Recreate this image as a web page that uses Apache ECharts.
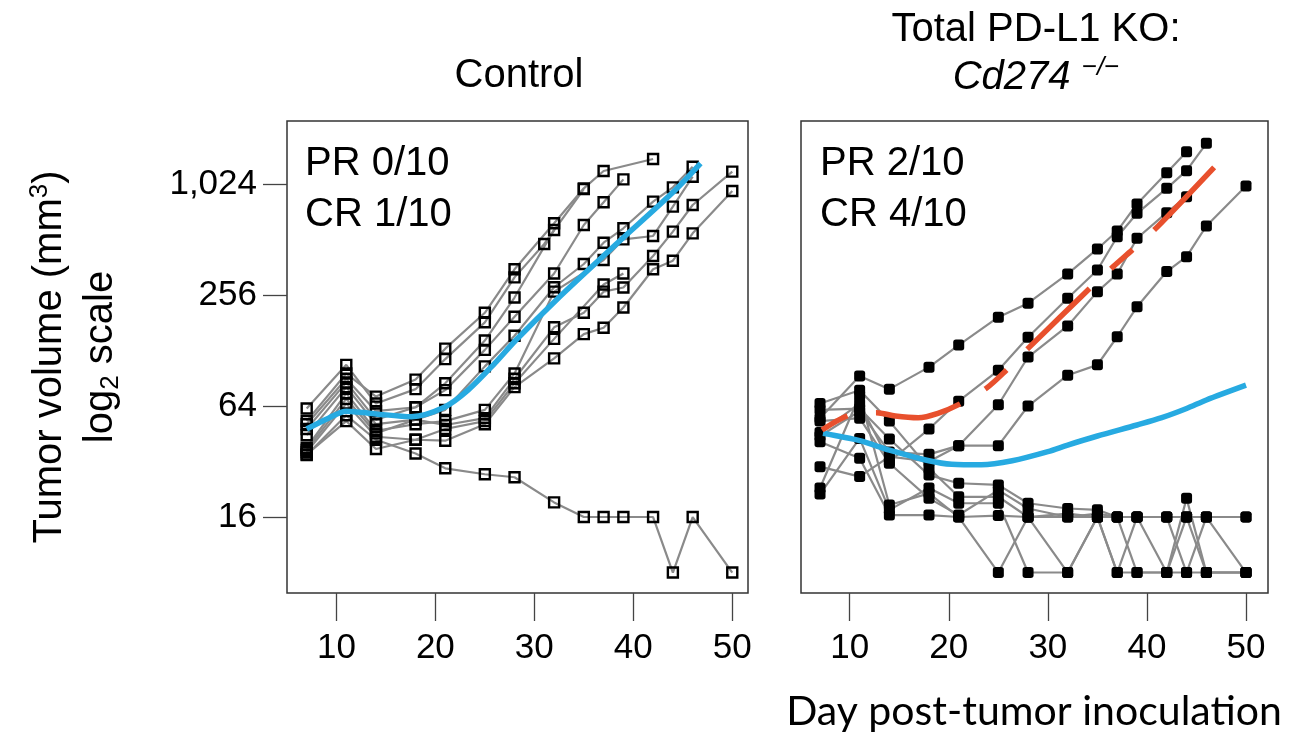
<!DOCTYPE html>
<html><head><meta charset="utf-8">
<script src="https://cdn.jsdelivr.net/npm/echarts@6/dist/echarts.min.js"></script>
<style>html,body{margin:0;padding:0;background:#fff}#c{width:1294px;height:733px}</style>
</head><body><div id="c"></div>
<script>
// ---------------- DATA ----------------
// Control panel: measurement days (one mouse measured on day 31 instead of 32)
const ctrlDays = [7, 11, 14, 18, 21, 25, 28, 31, 32, 35, 37, 39, 42, 44, 46, 50];
// tumor volumes (mm^3), one array per mouse, null = not measured
const ctrlA  = [53, 96, 72, 89, 131, 205, 353, null, 627, 970, 1205, null, 1399, null, null, null];
const ctrlB  = [62, 107, 66, 79, 115, 182, 319, 484, null, 960, null, null, null, null, null, null];
const ctrlC  = [51, 90, 60, 63, 85, 145, 248, null, 577, null, null, null, null, null, null, null];
const ctrlD  = [48, 86, 54, 63, 78, 129, 195, null, 335, 614, 815, 1085, null, null, null, null];
const ctrlE  = [44.5, 81, 51, 54, 61, 105, 154, null, 282, 377, 492, 589, 822, 982, 1271, null];
const ctrlF  = [38, 75, 47, 51, 53, 61, 96, null, 267, null, 396, 513, 535, 772, 1122, null];
const ctrlG  = [37, 70, 45.5, 54, 50.5, 55, 90, null, 171, 205, 267, 281, 417, 565, 788, 1195];
const ctrlH  = [36, 66, 43.6, 42, 48, 53, 85, null, 148, null, 292, 335, null, null, null, null];
const ctrlI  = [35, 53, 37.4, 42, 41.5, 51, 81, null, 116, 157, 170, 219, 353, 393, 553, 938];
const ctrlJ  = [34.7, 57, 42, 35.4, 29.4, 27.3, 26.3, null, 19.2, 16, 16, 16, 16, 8, 16, 8];
const ctrlMice = [ctrlA, ctrlB, ctrlC, ctrlD, ctrlE, ctrlF, ctrlG, ctrlH, ctrlI, ctrlJ];

// Control fitted trend (blue)
const ctrlFitDays = [7, 9.2, 11, 14, 17.6, 20.9, 23.3, 26, 28.1, 32.2, 38.4, 43.9, 46.8];
const ctrlFitVol  = [48, 55, 60, 58, 56, 63, 78, 109, 145, 240, 490, 911, 1325];

// Cd274 -/- panel
const koDays = [7, 11, 14, 18, 21, 25, 28, 32, 35, 37, 39, 42, 44, 46, 50];
const koA = [55, 93, 79, 104, 137, 194, 231, 333, 455, 569, 798, 1180, 1534, null, null];
const koB = [46, 66, 32, 48, 68, 100, 151, 246, 350, 530, 710, 970, 1210, 1702, null];
const koC = [44, 60, 36, 35, 39, 65, 118, 174, 267, 333, 520, 716, 874, null, null];
const koD = [30, 26.5, 34, 32, 39, 39, 64, 94, 107, 152, 221, 343, 413, 606, 999];
const koE = [23, 73, 18.6, 21.5, 16, 8, 16, 16, 16, 16, 16, 16, 16, 16, 16];
const koF = [21.3, 42.7, 17.5, 23, 19, 19, 8, 8, 16, 8, 16, 8, 20.2, 8, 8];
const koG = [66, 78, 53, 29.4, 20.6, 20.6, 16, 16.7, 16, 16, 8, 8, 16, 8, 8];
const koH = [61, 62, 42.4, 27, 24.4, 23.9, 19, 17.8, 17.5, 16, 16, 16, 8, 16, 16];
const koI = [53, 55, 31.3, 20.2, 16.4, 22.4, 17.8, 16, 16.7, 16, 16, 16, 16, 16, 8];
const koJ = [41, 33.3, 16.4, 16.4, 16, 16.3, 16, 8, 16, 8, 8, 8, 8, 8, 8];
const koMice = [koA, koB, koC, koD, koE, koF, koG, koH, koI, koJ];

// KO fitted trends: all mice (blue) and progressors (red, dashed)
const koFitAllDays = [7.3, 11, 14, 18, 20.3, 23.3, 26.4, 30, 32, 35, 39, 41.5, 44, 46, 50];
const koFitAllVol  = [45.5, 41.5, 36.9, 32.3, 30.9, 30.7, 32.3, 36.2, 39.3, 44, 50.5, 55.3, 62, 69, 83];
const koFitProgDays = [7.2, 9.9, 12.7, 14.6, 16.9, 18.9, 21.2, 23.8, 25.8, 28, 34.4, 36.6, 38.7, 41, 47];
const koFitProgVol  = [47.4, 57, 58.9, 56.5, 55.3, 58.4, 66, 80, 100, 131.5, 284, 365, 459, 596, 1298];

// Axis ticks and labels
const xTicks = [10, 20, 30, 40, 50];
const yTickVols = [16, 64, 256, 1024];
const yTickLabels = ['16', '64', '256', '1,024'];

// Texts
const titleCtrl = 'Control';
const titleKo1 = 'Total PD-L1 KO:';
const titleKoGene = 'Cd274';
const titleKoSup = '\u2212/\u2212';
const ctrlPR = 'PR 0/10', ctrlCR = 'CR 1/10';
const koPR = 'PR 2/10', koCR = 'CR 4/10';
const xTitle = 'Day post-tumor inoculation';

// ---------------- CHART ----------------
const FONT = "'Liberation Sans', Arial, Helvetica, sans-serif";
const chart = echarts.init(document.getElementById('c'), null, {renderer: 'canvas'});
const yTickLog = yTickVols.map(v => Math.log2(v));
const labelOf = {};
yTickVols.forEach((v, i) => { labelOf[Math.log2(v).toFixed(3)] = yTickLabels[i]; });

function toPts(days, vols) {
  const out = [];
  days.forEach((d, i) => { if (vols[i] != null) out.push([d, Math.log2(vols[i])]); });
  return out;
}
const YMIN = 2.631, YMAX = 11.135;

function xAxisCfg(gi, min, max) {
  return {
    type: 'value', gridIndex: gi, min: min, max: max,
    axisLine: {show: false},
    splitLine: {show: false},
    axisTick: {show: true, customValues: xTicks, length: 28, lineStyle: {color: '#444', width: 1.3}},
    axisLabel: {show: true, customValues: xTicks, margin: 38, fontSize: 35, color: '#000', fontFamily: FONT}
  };
}
function yAxisCfg(gi, showTicks) {
  return {
    type: 'value', gridIndex: gi, min: YMIN, max: YMAX,
    axisLine: {show: false},
    splitLine: {show: false},
    axisTick: {show: showTicks, customValues: yTickLog, length: 24, lineStyle: {color: '#444', width: 1.3}},
    axisLabel: {show: showTicks, customValues: yTickLog, margin: 30, fontSize: 35, color: '#000', fontFamily: FONT,
      formatter: v => labelOf[Number(v).toFixed(3)] || ''}
  };
}

const series = [];
ctrlMice.forEach((m) => {
  series.push({
    type: 'line', xAxisIndex: 0, yAxisIndex: 0, data: toPts(ctrlDays, m),
    symbol: 'rect', symbolSize: 10, silent: true, z: 2,
    lineStyle: {color: '#8a8a8a', width: 2.2},
    itemStyle: {color: 'rgba(255,255,255,0)', borderColor: '#000', borderWidth: 2.4}
  });
});
koMice.forEach((m) => {
  series.push({
    type: 'line', xAxisIndex: 1, yAxisIndex: 1, data: toPts(koDays, m),
    symbol: 'roundRect', symbolSize: 11, silent: true, z: 2,
    lineStyle: {color: '#8a8a8a', width: 2.2},
    itemStyle: {color: '#000', borderWidth: 0}
  });
});
series.push({
  type: 'line', xAxisIndex: 0, yAxisIndex: 0, data: toPts(ctrlFitDays, ctrlFitVol),
  smooth: 0.3, symbol: 'none', silent: true, z: 5,
  lineStyle: {color: '#27aae1', width: 5.5}
});
series.push({
  type: 'line', xAxisIndex: 1, yAxisIndex: 1, data: toPts(koFitAllDays, koFitAllVol),
  smooth: 0.3, symbol: 'none', silent: true, z: 5,
  lineStyle: {color: '#27aae1', width: 5.5}
});
series.push({
  type: 'line', xAxisIndex: 1, yAxisIndex: 1, data: toPts(koFitProgDays, koFitProgVol),
  smooth: 0.3, symbol: 'none', silent: true, z: 6,
  lineStyle: {color: '#e8502d', width: 5.5, type: [29, 29, 87, 29]}
});

const big = {fontSize: 40, fontFamily: FONT, fill: '#000'};
function txt(x, y, text, align, extra) {
  return Object.assign({
    type: 'text', x: x, y: y, silent: true,
    style: Object.assign({text: text, align: align || 'center', verticalAlign: 'middle',
      textAlign: align || 'center', textVerticalAlign: 'middle'}, big)
  }, extra || {});
}

const option = {
  animation: false,
  backgroundColor: '#fff',
  grid: [
    {left: 287, top: 121, width: 461, height: 472, show: true, borderColor: '#333', borderWidth: 1.5, backgroundColor: 'transparent'},
    {left: 801, top: 121, width: 467, height: 472, show: true, borderColor: '#333', borderWidth: 1.5, backgroundColor: 'transparent'}
  ],
  xAxis: [xAxisCfg(0, 5.01, 51.59), xAxisCfg(1, 5.08, 52.22)],
  yAxis: [yAxisCfg(0, true), yAxisCfg(1, false)],
  series: series,
  graphic: [
    txt(519, 76, titleCtrl),
    txt(1036, 30, titleKo1),
    {
      type: 'text', x: 1036, y: 78, silent: true,
      style: {
        text: '{i|' + titleKoGene + ' }{s|' + titleKoSup + '}',
        align: 'center', verticalAlign: 'middle', textAlign: 'center', textVerticalAlign: 'middle',
        rich: {
          i: {fontSize: 40, fontStyle: 'italic', fontFamily: FONT, fill: '#000', lineHeight: 46},
          s: {fontSize: 26, fontStyle: 'italic', fontFamily: FONT, fill: '#000', verticalAlign: 'top', lineHeight: 26}
        }
      }
    },
    txt(305, 164, ctrlPR, 'left'),
    txt(305, 215, ctrlCR, 'left'),
    txt(820, 164, koPR, 'left'),
    txt(820, 215, koCR, 'left'),
    {
      type: 'text', x: 50, y: 357, rotation: Math.PI / 2, silent: true,
      style: {
        text: '{a|Tumor volume (mm}{s|3}{a|)}',
        align: 'center', verticalAlign: 'middle', textAlign: 'center', textVerticalAlign: 'middle',
        rich: {
          a: {fontSize: 40, fontFamily: FONT, fill: '#000', lineHeight: 46},
          s: {fontSize: 26, fontFamily: FONT, fill: '#000', verticalAlign: 'top', lineHeight: 28}
        }
      }
    },
    {
      type: 'text', x: 101, y: 357, rotation: Math.PI / 2, silent: true,
      style: {
        text: '{a|log}{s|2}{a| scale}',
        align: 'center', verticalAlign: 'middle', textAlign: 'center', textVerticalAlign: 'middle',
        rich: {
          a: {fontSize: 40, fontFamily: FONT, fill: '#000', lineHeight: 46},
          s: {fontSize: 26, fontFamily: FONT, fill: '#000', verticalAlign: 'bottom', lineHeight: 30}
        }
      }
    },
    {
      type: 'text', x: 1034, y: 712, silent: true,
      style: {text: xTitle, fontSize: 41, fontFamily: "Lato, 'Open Sans', sans-serif", fill: '#000',
        align: 'center', verticalAlign: 'middle', textAlign: 'center', textVerticalAlign: 'middle'}
    }
  ]
};
chart.setOption(option);
</script></body></html>
